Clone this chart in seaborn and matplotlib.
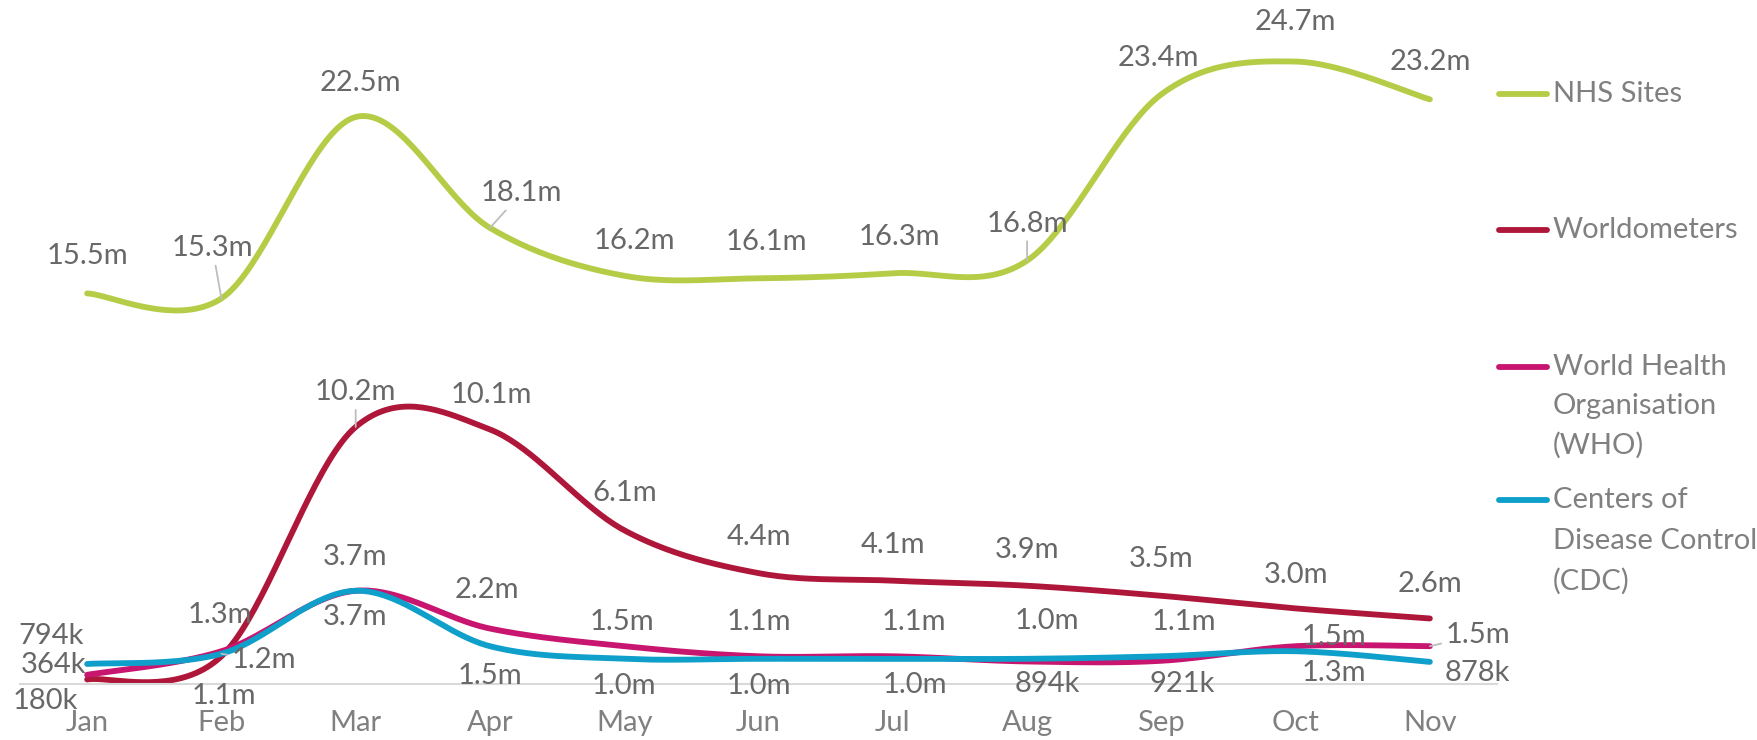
import numpy as np
import pandas as pd
import matplotlib
matplotlib.use("Agg")
import matplotlib.pyplot as plt
import seaborn as sns
from matplotlib.lines import Line2D

# ---------------- data ----------------
months = ["Jan", "Feb", "Mar", "Apr", "May", "Jun", "Jul", "Aug", "Sep", "Oct", "Nov"]
series_names = ["NHS Sites", "Worldometers", "World Health\nOrganisation\n(WHO)",
                "Centers of\nDisease Control\n(CDC)"]
nhs = [15.5, 15.3, 22.5, 18.1, 16.2, 16.1, 16.3, 16.8, 23.4, 24.7, 23.2]
worldometers = [0.18, 1.1, 10.2, 10.1, 6.1, 4.4, 4.1, 3.9, 3.5, 3.0, 2.6]
who = [0.364, 1.3, 3.7, 2.2, 1.5, 1.1, 1.1, 0.894, 0.921, 1.5, 1.5]
cdc = [0.794, 1.2, 3.7, 1.5, 1.0, 1.0, 1.0, 1.0, 1.1, 1.3, 0.878]
all_values = [nhs, worldometers, who, cdc]

# ---------------- style ----------------
colors = ["#B5CC47", "#AE1739", "#C8156F", "#0E9FCA"]
label_color = "#686868"
tick_color = "#808080"
FONT = ["Lato", "DejaVu Sans"]
FS = 21
LW = 4.2
S = 1758 / 1568  # label offsets measured on the reduced preview

# label offsets (dx, dy in preview px, dy downward) and leader-line flags
offsets = [
    [(0, -33), (-8, -45), (4, -30), (28, -31), (9, -31), (7, -32), (6, -32), (0, -33), (-3, -32), (0, -35), (0, -33)],
    [(-37, 19), (2, 35), (0, -31), (1, -31), (0, -33), (0, -32), (0, -32), (0, -32), (0, -33), (0, -30), (0, -31)],
    [(-30, -9), (-1, -32), (-1, -30), (-3, -34), (-2, -22), (0, -31), (19, -31), (18, 20), (19, 21), (34, -8), (43, -10)],
    [(-32, -25), (38, 6), (-1, 23), (0, 27), (0, 24), (0, 24), (20, 23), (18, -34), (20, -31), (34, 19), (42, 10)],
]
leaders = [
    [1, 3, 7],
    [2],
    [10],
    [1],
]


def fmt(v):
    if v >= 1:
        return f"{v:.1f}m"
    return f"{v * 1000:.0f}k"


def smooth(xs, ys, n=40):
    """Bezier smoothing (Catmull-Rom style, like office 'smoothed line')."""
    P = np.column_stack([xs, ys]).astype(float)
    out = []
    m = len(P)
    for i in range(m - 1):
        p0 = P[i - 1] if i > 0 else P[i]
        p1 = P[i]
        p2 = P[i + 1]
        p3 = P[i + 2] if i + 2 < m else P[i + 1]
        c1 = p1 + (p2 - p0) / 6.0
        c2 = p2 - (p3 - p1) / 6.0
        t = np.linspace(0, 1, n, endpoint=(i == m - 2))[:, None]
        b = ((1 - t) ** 3) * p1 + 3 * ((1 - t) ** 2) * t * c1 + 3 * (1 - t) * t ** 2 * c2 + t ** 3 * p2
        out.append(b)
    B = np.vstack(out)
    return B[:, 0], B[:, 1]


sns.set_theme(style="white")
plt.rcParams["font.family"] = FONT

W, H = 1758, 740
fig = plt.figure(figsize=(W / 100, H / 100), dpi=100)
ax_left, ax_right = 20 / W, 1497 / W
y0_px = 684  # pixel row of zero
ymax = 26.5
px_per_unit = 25.2
ax_h = ymax * px_per_unit
ax = fig.add_axes([ax_left, (H - y0_px) / H, ax_right - ax_left, ax_h / H])

x_idx = np.arange(len(months))
frames = []
for k, (name, vals) in enumerate(zip(series_names, all_values)):
    sx, sy = smooth(x_idx, vals)
    frames.append(pd.DataFrame({"x": sx, "y": sy, "series": name}))
df = pd.concat(frames, ignore_index=True)

sns.lineplot(data=df, x="x", y="y", hue="series", palette=dict(zip(series_names, colors)),
             estimator=None, sort=False, units="series", legend=False, linewidth=LW, ax=ax,
             solid_capstyle="round")

# data labels
for k, vals in enumerate(all_values):
    for i, v in enumerate(vals):
        dx, dy = offsets[k][i]
        kw = dict(xy=(i, v), xytext=(dx * S, -dy * S), textcoords="offset pixels",
                  ha="center", va="center", fontsize=FS, color=label_color, family=FONT, zorder=5)
        if i in leaders[k]:
            kw["arrowprops"] = dict(arrowstyle="-", color="#bdbdbd", lw=1.3, shrinkA=1, shrinkB=0)
        ax.annotate(fmt(v), **kw)

ax.set_xlim(-0.5, len(months) - 0.5)
ax.set_ylim(0, ymax)
ax.set_xticks(x_idx)
ax.set_xticklabels(months, fontsize=FS, color=tick_color, family=FONT)
ax.tick_params(axis="x", length=0, pad=19)
ax.set_yticks([])
ax.set_xlabel("")
ax.set_ylabel("")
for s in ["top", "left", "right"]:
    ax.spines[s].set_visible(False)
ax.spines["bottom"].set_color("#d9d9d9")
ax.spines["bottom"].set_linewidth(1.5)
ax.set_facecolor("none")

# legend (manual, right side)
leg_lines = [[94], [230], [367, 406, 445], [500, 541, 581]]
for k, name in enumerate(series_names):
    rows = leg_lines[k]
    y_first = 1 - rows[0] / H
    fig.add_artist(Line2D([1499 / W, 1547 / W], [y_first, y_first], color=colors[k], lw=LW,
                          solid_capstyle="round", transform=fig.transFigure))
    for r, line in zip(rows, name.split("\n")):
        fig.text(1553 / W, 1 - r / H, line, ha="left", va="center", fontsize=FS,
                 color=tick_color, family=FONT)

fig.savefig("out.png", dpi=100, facecolor="white")
